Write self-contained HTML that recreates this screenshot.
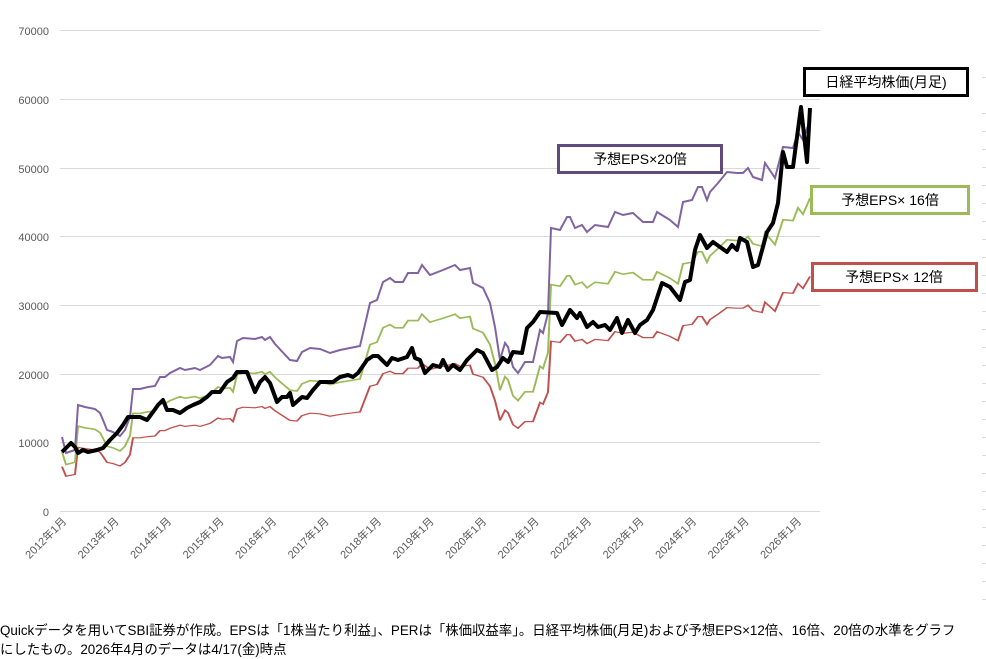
<!DOCTYPE html>
<html><head><meta charset="utf-8"><style>
body{margin:0;background:#fff;width:986px;height:659px;overflow:hidden;font-family:"Liberation Sans","Noto Sans CJK JP",sans-serif;}
.cap{position:absolute;left:0;font-size:13.4px;color:#000;white-space:nowrap}
</style></head><body>
<svg width="986" height="659" style="position:absolute;left:0;top:0" font-family="Liberation Sans, Noto Sans CJK JP, sans-serif">
<g stroke="#d9d9d9" stroke-width="1">
<line x1="60" y1="30.5" x2="820" y2="30.5"/><line x1="60" y1="99.5" x2="820" y2="99.5"/><line x1="60" y1="168.5" x2="820" y2="168.5"/><line x1="60" y1="236.5" x2="820" y2="236.5"/><line x1="60" y1="305.5" x2="820" y2="305.5"/><line x1="60" y1="374.5" x2="820" y2="374.5"/><line x1="60" y1="442.5" x2="820" y2="442.5"/><line x1="60" y1="511.5" x2="820" y2="511.5"/>
</g>
<g font-size="11" fill="#595959" text-anchor="end">
<text x="49" y="35">70000</text><text x="49" y="104">60000</text><text x="49" y="173">50000</text><text x="49" y="241">40000</text><text x="49" y="310">30000</text><text x="49" y="379">20000</text><text x="49" y="447">10000</text><text x="49" y="516">0</text>
</g>
<g font-size="11" fill="#595959" text-anchor="end">
<text transform="translate(67,522) rotate(-45)">2012年1月</text>
<text transform="translate(119.5,522) rotate(-45)">2013年1月</text>
<text transform="translate(172,522) rotate(-45)">2014年1月</text>
<text transform="translate(224.5,522) rotate(-45)">2015年1月</text>
<text transform="translate(277,522) rotate(-45)">2016年1月</text>
<text transform="translate(329.5,522) rotate(-45)">2017年1月</text>
<text transform="translate(382,522) rotate(-45)">2018年1月</text>
<text transform="translate(434.5,522) rotate(-45)">2019年1月</text>
<text transform="translate(487,522) rotate(-45)">2020年1月</text>
<text transform="translate(539.5,522) rotate(-45)">2021年1月</text>
<text transform="translate(592,522) rotate(-45)">2022年1月</text>
<text transform="translate(644.5,522) rotate(-45)">2023年1月</text>
<text transform="translate(697,522) rotate(-45)">2024年1月</text>
<text transform="translate(749.5,522) rotate(-45)">2025年1月</text>
<text transform="translate(802,522) rotate(-45)">2026年1月</text>
</g>
<defs>
<polyline id="eps" fill="none" points="62,437 66,453 75,450 78,405 85,407 95,409 100,413 103,420 107,430 113,432 120,436 125,430 130,417 133,389 140,389 148,387 155,386 160,377 165,377 170,373 180,368 185,370 195,368 200,370 210,365 218,356 222,358 230,357 233,362 237,341 243,338 255,339 262,337 265,340 270,337 275,344 290,360 297,361 302,352 310,348 320,349 330,353 340,350 350,348 360,346 370,303 377,300 383,282 390,278 395,282 403,282 408,273 418,273 422,265 430,275 443,270 455,265 460,270 470,268 473,283 483,288 490,303 495,327 500,360 505,343 508,347 513,367 518,373 525,362 533,362 540,330 543,333 548,313 551,228 560,230 567,217 570,217 575,228 582,225 587,232 595,225 608,227 615,212 623,215 633,213 643,222 653,222 657,212 670,220 678,227 683,202 692,200 698,187 702,187 707,200 710,192 718,183 727,172 737,173 743,173 748,168 753,177 762,180 765,163 775,178 783,147 793,148 798,132 803,140 810,120"/>
</defs>
<g transform="translate(0,511) scale(1,0.6) translate(0,-511)"><use href="#eps" stroke="#c0504d" stroke-width="2" vector-effect="non-scaling-stroke"/></g>
<g transform="translate(0,511) scale(1,0.8) translate(0,-511)"><use href="#eps" stroke="#9bbb59" stroke-width="2" vector-effect="non-scaling-stroke"/></g>
<use href="#eps" stroke="#8064a2" stroke-width="2"/>
<polyline fill="none" stroke="#000" stroke-width="4" stroke-linejoin="round" points="62,452 67,447 71,443 75,447 78,453 83,450 88,452 97,450 103,448 110,440 117,433 123,425 128,417 140,417 147,420 153,412 158,405 163,400 167,410 173,410 180,413 187,408 193,405 200,402 207,397 212,392 220,392 227,382 233,378 237,372 247,372 255,392 260,382 265,377 270,383 277,402 282,397 287,397 290,393 293,405 302,397 307,398 313,390 320,382 333,382 340,377 348,375 353,377 358,373 367,360 373,356 378,356 387,365 392,358 398,360 407,357 412,348 415,358 420,360 425,373 433,365 440,367 443,360 448,370 453,365 460,370 467,360 477,350 483,353 492,370 497,367 503,358 508,362 513,352 522,353 527,328 533,322 540,312 557,313 562,325 570,310 577,318 580,313 587,327 593,322 598,327 605,325 610,330 617,318 622,333 628,320 635,333 640,325 647,320 653,310 662,283 670,287 680,300 685,282 690,280 695,250 700,235 707,248 713,242 720,247 727,252 732,245 737,250 740,238 747,242 753,267 758,265 767,232 773,223 778,203 783,152 787,167 793,167 801,107 807,162 810,108"/>
<g font-size="14" text-anchor="middle">
<rect x="804.5" y="68.5" width="163" height="27" fill="#fff" stroke="#000" stroke-width="3"/><text x="886" y="87">日経平均株価(月足)</text>
<rect x="558.5" y="145.5" width="163" height="27" fill="#fff" stroke="#604a7b" stroke-width="3"/><text x="640" y="164">予想EPS×20倍</text>
<rect x="811.5" y="186.5" width="157" height="27" fill="#fff" stroke="#9bbb59" stroke-width="3"/><text x="890" y="205">予想EPS× 16倍</text>
<rect x="812.5" y="263.5" width="164" height="27" fill="#fff" stroke="#c0504d" stroke-width="3"/><text x="894" y="282">予想EPS× 12倍</text>
</g>
<g stroke="#d9d9d9" stroke-width="1">
<line x1="982" y1="77.5" x2="986" y2="77.5"/><line x1="982" y1="113.5" x2="986" y2="113.5"/><line x1="982" y1="131.5" x2="986" y2="131.5"/><line x1="982" y1="149.5" x2="986" y2="149.5"/><line x1="982" y1="167.5" x2="986" y2="167.5"/><line x1="982" y1="185.5" x2="986" y2="185.5"/><line x1="982" y1="203.5" x2="986" y2="203.5"/><line x1="982" y1="221.5" x2="986" y2="221.5"/><line x1="982" y1="239.5" x2="986" y2="239.5"/><line x1="982" y1="257.5" x2="986" y2="257.5"/><line x1="982" y1="275.5" x2="986" y2="275.5"/><line x1="982" y1="293.5" x2="986" y2="293.5"/><line x1="982" y1="311.5" x2="986" y2="311.5"/><line x1="982" y1="329.5" x2="986" y2="329.5"/><line x1="982" y1="347.5" x2="986" y2="347.5"/><line x1="982" y1="365.5" x2="986" y2="365.5"/><line x1="982" y1="383.5" x2="986" y2="383.5"/><line x1="982" y1="401.5" x2="986" y2="401.5"/><line x1="982" y1="419.5" x2="986" y2="419.5"/><line x1="982" y1="437.5" x2="986" y2="437.5"/><line x1="982" y1="455.5" x2="986" y2="455.5"/><line x1="982" y1="473.5" x2="986" y2="473.5"/><line x1="982" y1="491.5" x2="986" y2="491.5"/><line x1="982" y1="509.5" x2="986" y2="509.5"/><line x1="982" y1="527.5" x2="986" y2="527.5"/><line x1="982" y1="545.5" x2="986" y2="545.5"/><line x1="982" y1="563.5" x2="986" y2="563.5"/><line x1="982" y1="581.5" x2="986" y2="581.5"/><line x1="982" y1="599.5" x2="986" y2="599.5"/>
</g>
</svg>
<div class="cap" style="top:619px">Quickデータを用いてSBI証券が作成。EPSは「1株当たり利益」、PERは「株価収益率」。日経平均株価(月足)および予想EPS×12倍、16倍、20倍の水準をグラフ</div>
<div class="cap" style="top:638px">にしたもの。2026年4月のデータは4/17(金)時点</div>
</body></html>
